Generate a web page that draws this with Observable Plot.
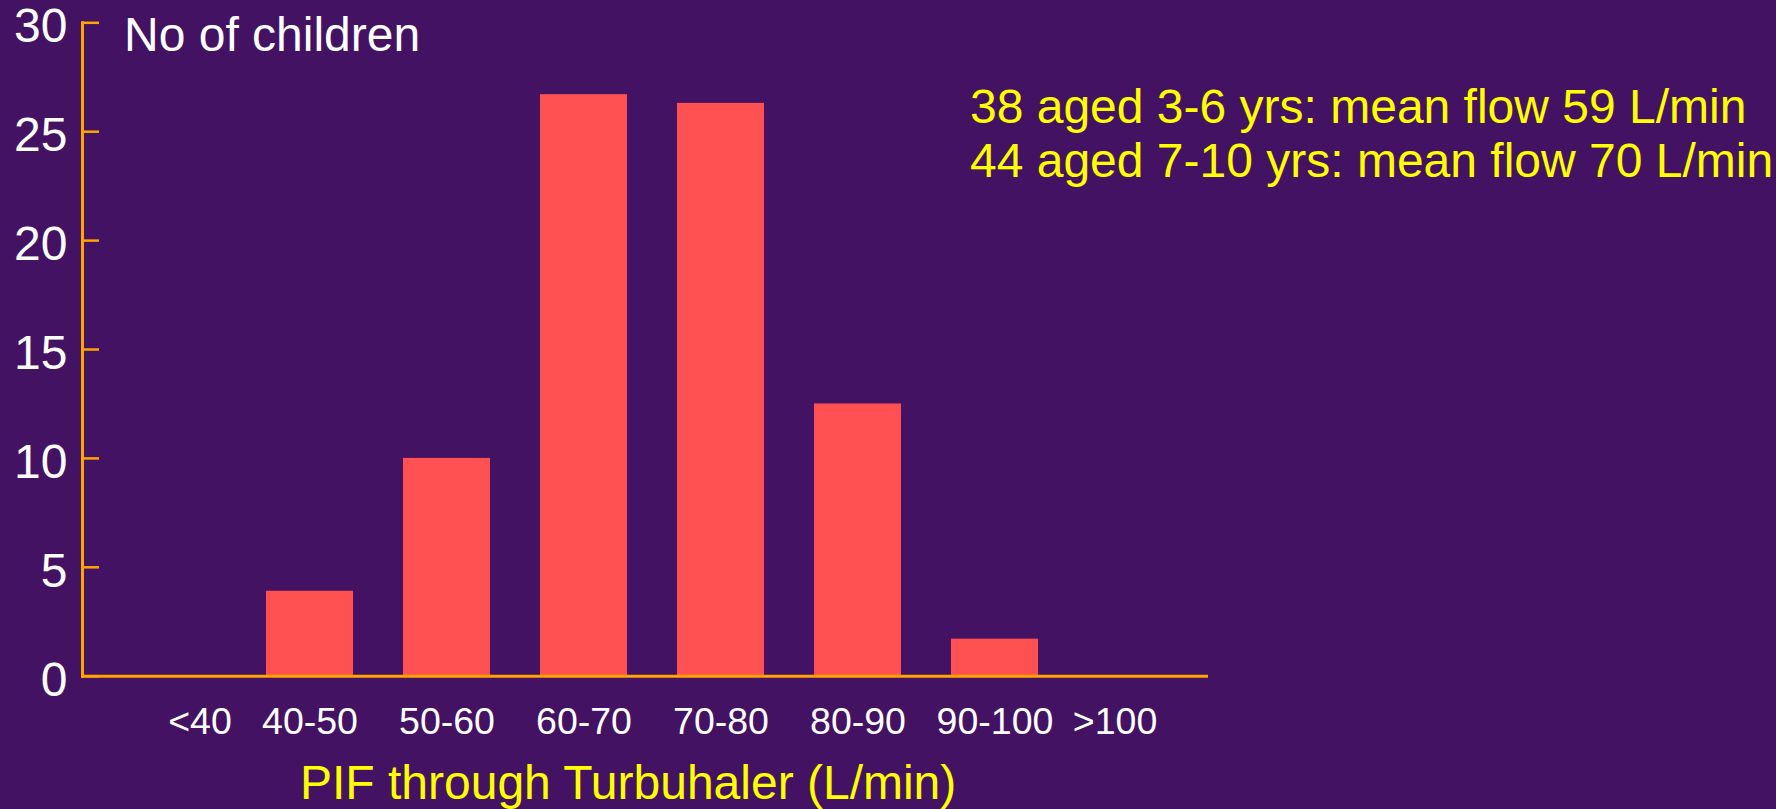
<!DOCTYPE html>
<html><head><meta charset="utf-8">
<script src="https://cdn.jsdelivr.net/npm/d3@7"></script>
<script src="https://cdn.jsdelivr.net/npm/@observablehq/plot@0.6"></script>
<style>
html,body{margin:0;padding:0;background:#441263;}
#wrap{position:relative;width:1776px;height:809px;overflow:hidden;font-family:"Liberation Sans",Arial,sans-serif;}
#wrap svg{position:absolute;left:0;top:0;}
.t{position:absolute;white-space:nowrap;line-height:1;margin:0;}
</style></head><body><div id="wrap"></div>
<script>
// ---- data ----
const categories = ["<40","40-50","50-60","60-70","70-80","80-90","90-100",">100"];
const counts = [0, 3.9, 10, 26.7, 26.3, 12.5, 1.7, 0];
const yTicks = [0, 5, 10, 15, 20, 25, 30];
const yTitle = "No of children";
const xTitle = "PIF through Turbuhaler (L/min)";
const notes = ["38 aged 3-6 yrs: mean flow 59 L/min", "44 aged 7-10 yrs: mean flow 70 L/min"];

const table = categories.map((c, i) => ({range: c, n: counts[i]}));

const axisColor = "#ffa500";
const barColor = "#ff5151";
const tickFont = 37.5;

const chart = Plot.plot({
  width: 1776,
  height: 809,
  marginTop: 22.3,
  marginBottom: 133.3,
  marginLeft: 82,
  marginRight: 570,
  style: {background: "transparent", fontFamily: "'Liberation Sans', Arial, sans-serif", overflow: "visible"},
  x: {domain: categories, paddingInner: 0.3668, paddingOuter: 0.274, align: 0.603, label: null},
  y: {domain: [0, 30], label: null},
  marks: [
    Plot.barY(table, {x: "range", y: "n", fill: barColor}),
    Plot.frame({anchor: "left", stroke: axisColor, strokeWidth: 3}),
    Plot.frame({anchor: "bottom", stroke: axisColor, strokeWidth: 3}),
    Plot.axisY(yTicks, {tickSize: -17, stroke: axisColor, strokeWidth: 2.5, fill: "none", label: null}),
    Plot.axisY(yTicks, {tickSize: 0, tickPadding: 15, fill: "white", fontSize: 48, dy: 4, label: null}),
    Plot.axisX(categories.slice(1, -1), {tickSize: 0, tickPadding: 31, fill: "white", fontSize: tickFont, label: null}),
    Plot.axisX(categories.slice(0, 1), {tickSize: 0, tickPadding: 31, fill: "white", fontSize: tickFont, dx: 27, label: null}),
    Plot.axisX(categories.slice(-1), {tickSize: 0, tickPadding: 31, fill: "white", fontSize: tickFont, dx: -17, label: null})
  ]
});

const wrap = document.getElementById("wrap");
wrap.appendChild(chart);

function addText(txt, {left, baseline, size, color}) {
  const d = document.createElement("div");
  d.className = "t";
  d.textContent = txt;
  d.style.fontSize = size + "px";
  d.style.color = color;
  d.style.top = (baseline - 0.8465 * size) + "px";
  d.style.left = left + "px";
  wrap.appendChild(d);
}
addText(yTitle, {left: 124, baseline: 52, size: 48, color: "#ffffff"});
addText(notes[0], {left: 970, baseline: 123.5, size: 48, color: "#ffff00"});
addText(notes[1], {left: 970, baseline: 178, size: 48, color: "#ffff00"});
addText(xTitle, {left: 300, baseline: 800, size: 48, color: "#ffff00"});
</script>
</body></html>
